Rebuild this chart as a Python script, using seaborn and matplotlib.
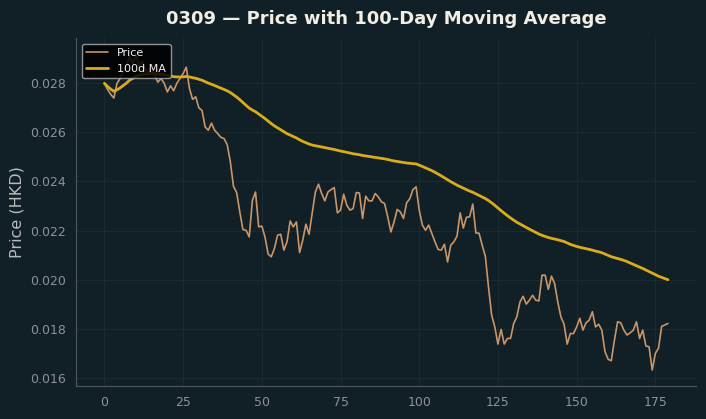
import pandas as pd
import matplotlib
matplotlib.use("Agg")
import matplotlib.pyplot as plt
import seaborn as sns

# Closing prices (HKD), one per trading day
price = [
    0.0280, 0.02775, 0.02755, 0.0274, 0.0280, 0.0282, 0.0285, 0.0287, 0.0291, 0.0288,
    0.0292, 0.0287, 0.0289, 0.0286, 0.0284, 0.0287, 0.0283, 0.02805, 0.0282, 0.0280,
    0.02765, 0.0279, 0.0277, 0.0280, 0.0282, 0.0284, 0.02866, 0.0278, 0.02735, 0.02745,
    0.0270, 0.0269, 0.02622, 0.02609, 0.02638, 0.02609, 0.02595, 0.0258, 0.02575, 0.0255,
    0.0248, 0.0238, 0.02355, 0.02276, 0.02204, 0.02201, 0.02174, 0.02323, 0.02357, 0.02215,
    0.02218, 0.02174, 0.02104, 0.02093, 0.02127, 0.02181, 0.02185, 0.0212, 0.02154, 0.02239,
    0.02215, 0.02235, 0.0211, 0.02161, 0.02226, 0.02185, 0.0227, 0.02357, 0.02389, 0.02351,
    0.02321, 0.02357, 0.02367, 0.02375, 0.02272, 0.02283, 0.02348, 0.02303, 0.02283, 0.0229,
    0.02355, 0.02353, 0.02249, 0.0234, 0.02321, 0.02321, 0.02351, 0.02337, 0.02317, 0.0231,
    0.02255, 0.02194, 0.02235, 0.02286, 0.02276, 0.02249, 0.02313, 0.0233, 0.02367, 0.02378,
    0.02283, 0.02222, 0.02201, 0.02222, 0.02188, 0.02154, 0.02123, 0.0212, 0.02144, 0.02072,
    0.0214, 0.02154, 0.02177, 0.02272, 0.0221, 0.02254, 0.02256, 0.02308, 0.0219, 0.02189,
    0.0214, 0.02095, 0.0197, 0.01855, 0.01807, 0.01737, 0.01797, 0.01737, 0.0176, 0.0176,
    0.01821, 0.01848, 0.01909, 0.01932, 0.019, 0.01916, 0.01936, 0.01916, 0.01913, 0.02018,
    0.02018, 0.0196, 0.02014, 0.01984, 0.01909, 0.01848, 0.01818, 0.01737, 0.0178, 0.0178,
    0.01807, 0.01842, 0.01794, 0.01824, 0.01835, 0.01869, 0.01807, 0.01818, 0.01794, 0.01706,
    0.01675, 0.01669, 0.01753, 0.01828, 0.01824, 0.01794, 0.01774, 0.01783, 0.01794, 0.01828,
    0.0176, 0.01794, 0.01729, 0.01726, 0.01631, 0.01699, 0.0172, 0.01809, 0.01815, 0.01821,
]
ticker = "0309"
ma_window = 100

df = pd.DataFrame({"day": range(len(price)), "price": price})
df["ma"] = df["price"].rolling(ma_window, min_periods=1).mean()

bg = "#111f26"
sns.set_theme(style="dark")
plt.rcParams["font.family"] = ["DejaVu Sans"]

fig = plt.figure(figsize=(7.06, 4.19), dpi=100, facecolor=bg)
ax = fig.add_axes([0.108, 0.079, 0.878, 0.830], facecolor=bg)

sns.lineplot(data=df, x="day", y="price", ax=ax, color="#c8966a", linewidth=1.2, label="Price")
sns.lineplot(data=df, x="day", y="ma", ax=ax, color="#d8ac1c", linewidth=2.0, label=f"{ma_window}d MA")

ax.set_title(f"{ticker} \u2014 Price with {ma_window}-Day Moving Average",
             color="#f2eee4", fontsize=13, fontweight="bold", pad=10)
ax.set_xlabel("")
ax.set_ylabel("Price (HKD)", color="#b9bcbf", fontsize=11.5)
ax.set_xticks([0, 25, 50, 75, 100, 125, 150, 175])
ax.yaxis.set_major_formatter(matplotlib.ticker.FormatStrFormatter("%.3f"))
ax.tick_params(colors="#8c9296", labelsize=9, length=4, width=0.8)
ax.tick_params(axis="both", which="both", color="#5b6468")

ax.grid(True, color="#1a2a31", linewidth=0.8)
for side in ["top", "right"]:
    ax.spines[side].set_visible(False)
for side in ["left", "bottom"]:
    ax.spines[side].set_color("#4a5357")
    ax.spines[side].set_linewidth(0.9)

leg = ax.legend(loc="upper left", fontsize=8, facecolor="black", edgecolor="#aaaaaa",
                framealpha=0.85, labelcolor="#f0f0f0")

fig.savefig("out.png", dpi=100, facecolor=bg)
